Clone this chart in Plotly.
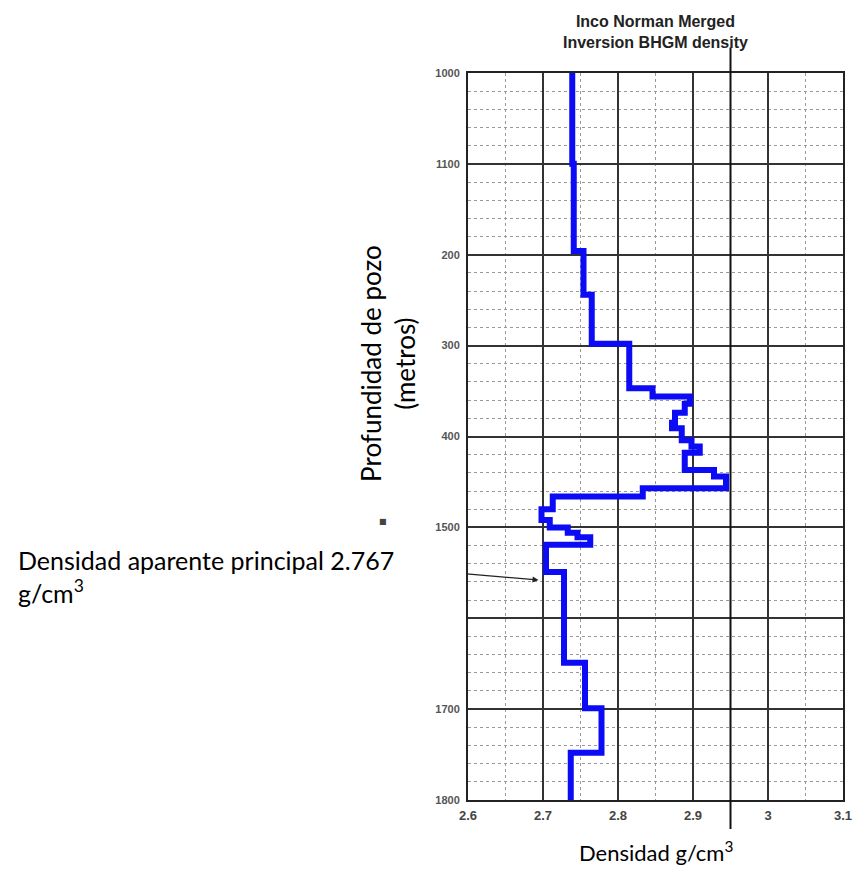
import plotly.graph_objects as go

# ---- data ----
depth_m = [1000, 1100, 1196, 1244, 1298, 1347, 1356, 1364, 1374, 1385, 1391, 1404,
           1411, 1418, 1437, 1444, 1457, 1466, 1480, 1492, 1500, 1506, 1511, 1519,
           1549, 1649, 1699, 1748, 1800]
density = [2.739, 2.741, 2.754, 2.765, 2.815, 2.846, 2.896, 2.889, 2.876, 2.872, 2.885, 2.898,
           2.909, 2.889, 2.928, 2.944, 2.833, 2.713, 2.698, 2.709, 2.733, 2.746, 2.763, 2.704,
           2.728, 2.756, 2.778, 2.737, 2.737]

y_tick_vals = [1000, 1100, 1200, 1300, 1400, 1500, 1600, 1700, 1800]
y_tick_text = ["1000", "1100", "200", "300", "400", "1500", "", "1700", "1800"]
x_tick_vals = [2.6, 2.7, 2.8, 2.9, 3.0, 3.1]
x_tick_text = ["2.6", "2.7", "2.8", "2.9", "3", "3.1"]

marker_x = 2.95          # vertical reference line
arrow_tip = (2.694, 1558)
arrow_tail = (2.596, 1551)

fig = go.Figure()
fig.add_trace(go.Scatter(
    x=density, y=depth_m, mode="lines",
    line=dict(color="#0b0bf5", width=6, shape="vh"),
    showlegend=False, hoverinfo="skip"))

fig.update_layout(
    width=854, height=865,
    margin=dict(l=460, r=10, t=65, b=73),
    paper_bgcolor="white", plot_bgcolor="white",
    xaxis=dict(range=[2.6, 3.1], tickvals=x_tick_vals, ticktext=x_tick_text,
               showgrid=True, gridcolor="#333", gridwidth=2,
               minor=dict(dtick=0.05, tick0=2.6, showgrid=True, gridcolor="#999",
                          griddash="dot", gridwidth=1),
               showline=True, linecolor="#222", linewidth=2, mirror=True,
               ticks="", ticklabelstandoff=2,
               tickfont=dict(family="Liberation Sans, Arial", size=13, color="#444", weight="bold"),
               zeroline=False, fixedrange=True),
    yaxis=dict(range=[1800, 1000], tickvals=y_tick_vals, ticktext=y_tick_text,
               showgrid=True, gridcolor="#333", gridwidth=2,
               minor=dict(dtick=20, tick0=1000, showgrid=True, gridcolor="#999",
                          griddash="dot", gridwidth=1),
               showline=True, linecolor="#222", linewidth=2, mirror=True,
               ticks="", ticklabelstandoff=4,
               tickfont=dict(family="Liberation Sans, Arial", size=11, color="#555", weight="bold"),
               zeroline=False, fixedrange=True),
)

# vertical reference line extending beyond the frame
fig.add_shape(type="line", xref="x", yref="paper", x0=marker_x, x1=marker_x,
              y0=-0.04, y1=1.035, line=dict(color="#111", width=2))

def py(p):
    return (800 - p) / 727.0

def px(p):
    return (p - 468) / 384.0

fig.add_annotation(xref="paper", yref="paper", x=0.5, y=py(32), xanchor="center",
                   yanchor="middle", showarrow=False,
                   text="Inco Norman Merged<br>Inversion BHGM density",
                   font=dict(family="Liberation Sans, Arial", size=16, color="#222",
                             weight="bold"))

fig.add_annotation(xref="paper", yref="paper", x=px(386), y=py(363), xanchor="center",
                   yanchor="middle", showarrow=False, textangle=-90,
                   text="Profundidad de pozo<br>(metros)",
                   font=dict(family="Lato", size=26, color="black"))

fig.add_annotation(xref="paper", yref="paper", x=0.5, y=py(852), xanchor="center",
                   yanchor="middle", showarrow=False,
                   text="Densidad g/cm<sup>3</sup>",
                   font=dict(family="Lato", size=22, color="black"))

fig.add_annotation(xref="paper", yref="paper", x=px(5), y=py(576), xanchor="left",
                   yanchor="middle", showarrow=False, align="left",
                   text="Densidad aparente principal 2.767<br>g/cm<sup>3</sup>",
                   font=dict(family="Lato", size=25, color="black"))

fig.add_annotation(xref="x", yref="y", x=arrow_tip[0], y=arrow_tip[1],
                   axref="x", ayref="y", ax=arrow_tail[0], ay=arrow_tail[1],
                   showarrow=True, arrowhead=2, arrowsize=1, arrowwidth=1.2,
                   arrowcolor="#222", text="")

fig.add_annotation(xref="paper", yref="paper", x=px(381), y=py(521), xanchor="center",
                   yanchor="middle", showarrow=False, text="■",
                   font=dict(family="DejaVu Sans", size=8, color="#444"))

fig.write_html("out.html")
